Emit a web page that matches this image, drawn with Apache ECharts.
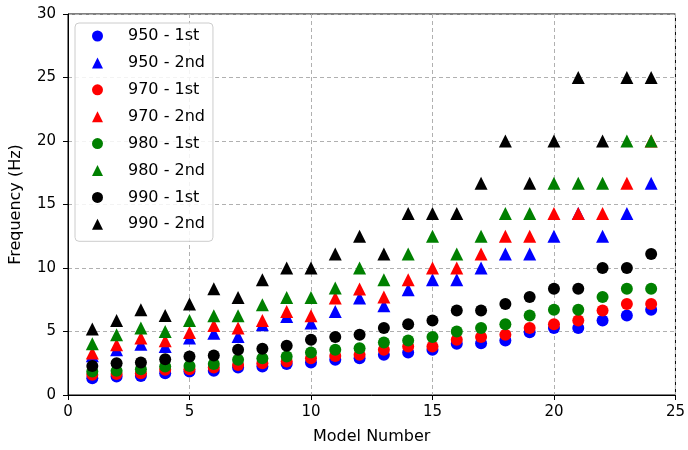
<!DOCTYPE html>
<html>
<head>
<meta charset="utf-8">
<script src="https://cdn.jsdelivr.net/npm/echarts@6/dist/echarts.min.js"></script>
<style>
  html, body { margin: 0; padding: 0; background: #fff; }
  #chart { width: 688px; height: 450px; }
</style>
</head>
<body>
<div id="chart"></div>
<script>
const models = [1, 2, 3, 4, 5, 6, 7, 8, 9, 10, 11, 12, 13, 14, 15, 16, 17, 18, 19, 20, 21, 22, 23, 24];

const f950first = [1.32, 1.45, 1.5, 1.72, 1.85, 1.9, 2.16, 2.24, 2.45, 2.56, 2.77, 2.9, 3.16, 3.35, 3.56, 4.03, 4.08, 4.29, 4.95, 5.27, 5.27, 5.87, 6.26, 6.71];
const f950second = [3.1, 3.56, 4.0, 3.82, 4.48, 4.87, 4.61, 5.53, 6.18, 5.66, 6.58, 7.63, 7.03, 8.29, 9.08, 9.08, 10.0, 11.11, 11.11, 12.5, 14.29, 12.5, 14.29, 16.67];
const f970first = [1.59, 1.66, 1.72, 1.98, 2.03, 2.16, 2.37, 2.5, 2.64, 2.9, 3.08, 3.16, 3.56, 3.82, 3.82, 4.35, 4.56, 4.74, 5.27, 5.58, 5.87, 6.66, 7.16, 7.16];
const f970second = [3.3, 3.95, 4.48, 4.27, 4.92, 5.47, 5.27, 5.87, 6.58, 6.24, 7.63, 8.34, 7.71, 9.08, 10.0, 10.0, 11.11, 12.5, 12.5, 14.29, 14.29, 14.29, 16.67, 20];
const f980first = [1.85, 1.9, 2.03, 2.24, 2.29, 2.45, 2.77, 2.9, 3.03, 3.35, 3.56, 3.69, 4.13, 4.29, 4.56, 5.0, 5.27, 5.58, 6.26, 6.71, 6.71, 7.71, 8.37, 8.37];
const f980second = [4.03, 4.74, 5.27, 5.0, 5.87, 6.24, 6.24, 7.1, 7.68, 7.68, 8.42, 10.0, 9.08, 11.11, 12.5, 11.11, 12.5, 14.29, 14.29, 16.67, 16.67, 16.67, 20, 20];
const f990first = [2.29, 2.5, 2.56, 2.82, 3.03, 3.11, 3.56, 3.64, 3.87, 4.35, 4.56, 4.74, 5.27, 5.58, 5.87, 6.66, 6.66, 7.16, 7.71, 8.37, 8.37, 10.0, 10.0, 11.11];
const f990second = [5.2, 5.87, 6.71, 6.26, 7.16, 8.37, 7.68, 9.08, 10.0, 10.0, 11.11, 12.5, 11.11, 14.29, 14.29, 14.29, 16.67, 20, 16.67, 20, 25, 20, 25, 25];

const seriesDefs = [
  ['950 - 1st', f950first, 'circle', '#0000ff'],
  ['950 - 2nd', f950second, 'triangle', '#0000ff'],
  ['970 - 1st', f970first, 'circle', '#ff0000'],
  ['970 - 2nd', f970second, 'triangle', '#ff0000'],
  ['980 - 1st', f980first, 'circle', '#008000'],
  ['980 - 2nd', f980second, 'triangle', '#008000'],
  ['990 - 1st', f990first, 'circle', '#000000'],
  ['990 - 2nd', f990second, 'triangle', '#000000']
];

const font = 'DejaVu Sans';
const chart = echarts.init(document.getElementById('chart'));

const gridLine = { show: true, lineStyle: { color: '#b0b0b0', width: 1, type: [4, 3] } };

chart.setOption({
  animation: false,
  grid: {
    left: 66, right: 11, top: 14, bottom: 55,
    show: true, borderColor: '#000', borderWidth: 1, backgroundColor: 'transparent'
  },
  legend: {
    orient: 'vertical',
    left: 75, top: 23,
    padding: [5, 8, 9, 17],
    itemWidth: 11, itemHeight: 11, itemGap: 10.9,
    backgroundColor: 'rgba(255,255,255,0.85)',
    borderColor: '#cccccc', borderWidth: 1, borderRadius: 4,
    textStyle: { fontFamily: font, fontSize: 16, color: '#000', lineHeight: 14, padding: [0, 0, 0, 20] },
    data: seriesDefs.map(d => ({ name: d[0], icon: d[2] }))
  },
  xAxis: {
    type: 'value', min: 0, max: 25, interval: 5,
    name: 'Model Number', nameLocation: 'middle', nameGap: 34,
    nameTextStyle: { fontFamily: font, fontSize: 16, color: '#000' },
    axisLine: { show: true, onZero: false, lineStyle: { color: '#000', width: 1 } },
    axisTick: { show: true, inside: false, length: 5, lineStyle: { color: '#000' } },
    axisLabel: { fontFamily: font, fontSize: 15, color: '#000', margin: 10 },
    splitLine: gridLine
  },
  yAxis: {
    type: 'value', min: 0, max: 30, interval: 5,
    name: 'Frequency (Hz)', nameLocation: 'middle', nameGap: 44, nameRotate: 90,
    nameTextStyle: { fontFamily: font, fontSize: 16, color: '#000' },
    axisLine: { show: true, onZero: false, lineStyle: { color: '#000', width: 1 } },
    axisTick: { show: true, inside: false, length: 5, lineStyle: { color: '#000' } },
    axisLabel: { fontFamily: font, fontSize: 15, color: '#000', margin: 12 },
    splitLine: gridLine
  },
  series: seriesDefs.map(d => ({
    name: d[0],
    type: 'scatter',
    symbol: d[2],
    symbolSize: d[2] === 'circle' ? 12 : 13,
    itemStyle: { color: d[3], opacity: 1 },
    emphasis: { disabled: true },
    data: models.map((m, i) => [m, d[1][i]])
  }))
});
</script>
</body>
</html>
